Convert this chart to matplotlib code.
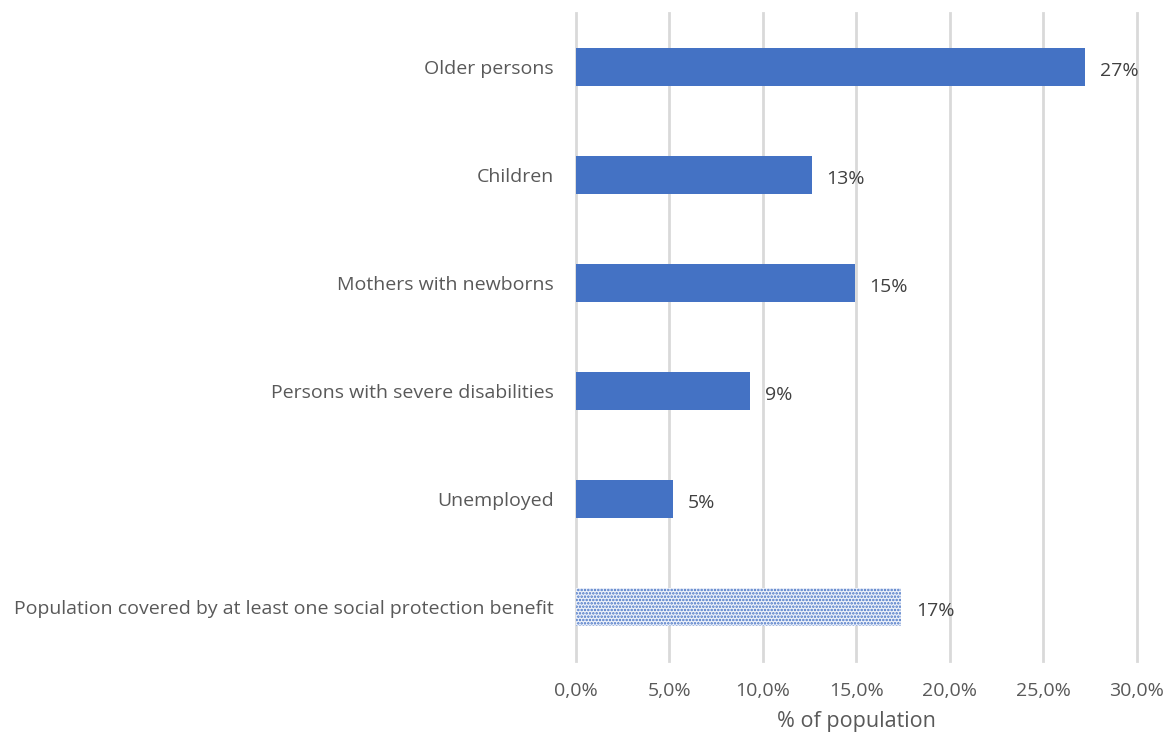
import matplotlib.pyplot as plt
from matplotlib.ticker import FuncFormatter

plt.rcParams['font.family'] = ['Open Sans', 'DejaVu Sans']
plt.rcParams['hatch.linewidth'] = 1.2

# data
categories = ['Older persons', 'Children', 'Mothers with newborns',
              'Persons with severe disabilities', 'Unemployed',
              'Population covered by at least one social protection benefit']
values = [27.2, 12.6, 14.9, 9.3, 5.2, 17.4]
labels = ['27%', '13%', '15%', '9%', '5%', '17%']
xticks = [0, 5, 10, 15, 20, 25, 30]

blue = '#4472c4'
grey = '#595959'

fig = plt.figure(figsize=(11.76, 7.42), dpi=100)
ax = fig.add_axes([0.4898, 0.1092, 0.477, 0.8733])

ypos = list(range(len(categories)))
bars = ax.barh(ypos, values, height=0.35, color=blue, zorder=3)

# the last bar is the dotted "total" bar
last = bars[-1]
last.set_facecolor('#eef2fa')
last.set_edgecolor(blue)
last.set_linewidth(0)
last.set_hatch('.....')

for y, v, lab in zip(ypos, values, labels):
    ax.text(v + 0.8, y + 0.04, lab, va='center', ha='left', fontsize=14, color='#404040')

ax.set_xlim(0, 30)
ax.set_ylim(len(categories) - 0.5, -0.5)
ax.set_xticks(xticks)
ax.xaxis.set_major_formatter(FuncFormatter(lambda x, p: f'{x:.1f}%'.replace('.', ',')))
ax.set_yticks(ypos)
ax.set_yticklabels(categories)

ax.grid(axis='x', color='#d9d9d9', linewidth=2, zorder=0)
for line in ax.get_xgridlines():
    line.set_clip_on(False)
for s in ax.spines.values():
    s.set_visible(False)
ax.tick_params(axis='both', length=0, colors=grey, labelsize=14)
ax.tick_params(axis='y', pad=16)
ax.tick_params(axis='x', pad=15)
ax.set_xlabel('% of population', fontsize=15.5, color=grey, labelpad=8)

fig.savefig('out.png', dpi=100)
